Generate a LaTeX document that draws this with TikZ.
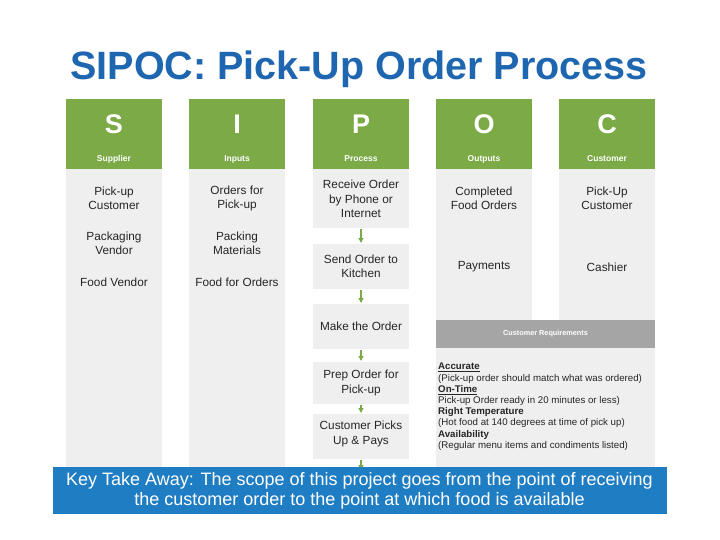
\documentclass[tikz,border=0pt]{standalone}
\usepackage{fontspec}
\setmainfont{Liberation Sans}
\usetikzlibrary{arrows.meta}
\definecolor{grn}{HTML}{7BAA47}
\definecolor{lg}{HTML}{EFEFEF}
\definecolor{dg}{HTML}{A5A5A5}
\definecolor{ttl}{HTML}{1E66B0}
\definecolor{kb}{HTML}{1F7DC4}
\begin{document}
\begin{tikzpicture}[x=1pt,y=-1pt,
  hdr/.style={fill=grn,draw=none},
  bodyb/.style={fill=lg,draw=none},
  big/.style={text=white,font=\bfseries\fontsize{27}{27}\selectfont},
  sm/.style={text=white,font=\bfseries\fontsize{8.5}{9}\selectfont},
  txt/.style={align=center,font=\fontsize{11.8}{14.5}\selectfont,text=black!85},
  arr/.style={-{Triangle[length=5pt,width=5pt]},draw=grn,line width=1.2pt}]
\useasboundingbox (0,0) rectangle (720,540);
\fill[white] (0,0) rectangle (720,540);
\node[text=ttl,font=\bfseries\fontsize{39.5}{44}\selectfont] (title) at (359,69) {SIPOC: Pick-Up Order Process};
% columns
\foreach \x/\L/\S [count=\i] in {66/S/Supplier,189/I/Inputs,313/P/Process,436/O/Outputs,559/C/Customer}{
  \fill[hdr] (\x,99) rectangle ++(96,70);
  \node[big] (L\i) at (\x+48,124) {\L};
  \node[sm] (S\i) at (\x+48,159) {\S};
}
\fill[bodyb] (66,169) rectangle (162,468);
\fill[bodyb] (189,169) rectangle (285,468);
\fill[bodyb] (436,169) rectangle (532,320);
\fill[bodyb] (559,169) rectangle (655,320);
\fill[dg] (436,320) rectangle (655,348);
\fill[bodyb] (436,348) rectangle (655,468);
\node[text=white,font=\bfseries\fontsize{7.3}{8}\selectfont] (cr) at (545.5,334) {Customer Requirements};
% process boxes
\fill[bodyb] (313,169) rectangle (409,228);
\fill[bodyb] (313,244) rectangle (409,289);
\fill[bodyb] (313,304) rectangle (409,349);
\fill[bodyb] (313,362) rectangle (409,404);
\fill[bodyb] (313,414) rectangle (409,459);
\node[txt] (a1) at (361,199) {Receive Order\\by Phone or\\Internet};
\node[txt] (a2) at (361,266.5) {Send Order to\\Kitchen};
\node[txt] (a3) at (361,326.5) {Make the Order};
\node[txt] (a4) at (361,383) {Prep Order for\\Pick-up};
\node[txt] (a5) at (361,434) {Customer Picks\\Up \& Pays};
\coordinate (b1) at (361,229); \coordinate (e1) at (361,243);
\coordinate (b2) at (361,290); \coordinate (e2) at (361,303);
\coordinate (b3) at (361,350); \coordinate (e3) at (361,361);
\coordinate (b4) at (361,405); \coordinate (e4) at (361,413);
\coordinate (b5) at (361,460); \coordinate (e5) at (361,470);
\draw[arr] (b1) -- (e1); \draw[arr] (b2) -- (e2); \draw[arr] (b3) -- (e3);
\draw[arr] (b4) -- (e4); \draw[arr] (b5) -- (e5);
% texts
\node[txt] (s1) at (114,198.5) {Pick-up\\Customer};
\node[txt] (s2) at (114,243.5) {Packaging\\Vendor};
\node[txt] (s3) at (114,282) {Food Vendor};
\node[txt] (i1) at (237,198.5) {Orders for\\Pick-up};
\node[txt] (i2) at (237,243.5) {Packing\\Materials};
\node[txt] (i3) at (237,282) {Food for Orders};
\node[txt] (o1) at (484,198.5) {Completed\\Food Orders};
\node[txt] (o2) at (484,267) {Payments};
\node[txt] (c1) at (607,198.5) {Pick-Up\\Customer};
\node[txt] (c2) at (607,267) {Cashier};
\node[anchor=north west,align=left,font=\fontsize{9.7}{11.2}\selectfont,text=black!85,inner sep=0pt] (req) at (438,363)
 {\textbf{\underline{Accurate}}\\(Pick-up order should match what was ordered)\\\textbf{\underline{On-Time}}\\Pick-up Order ready in 20 minutes or less)\\\textbf{Right Temperature}\\(Hot food at 140 degrees at time of pick up)\\\textbf{Availability}\\(Regular menu items and condiments listed)};
% key box
\fill[kb] (53,467) rectangle (667,514);
\node[text=white,align=center,font=\fontsize{18}{20.5}\selectfont] (key) at (359.5,491) {Key Take Away: The scope of this project goes from the point of receiving\\the customer order to the point at which food is available};
\end{tikzpicture}
\end{document}
